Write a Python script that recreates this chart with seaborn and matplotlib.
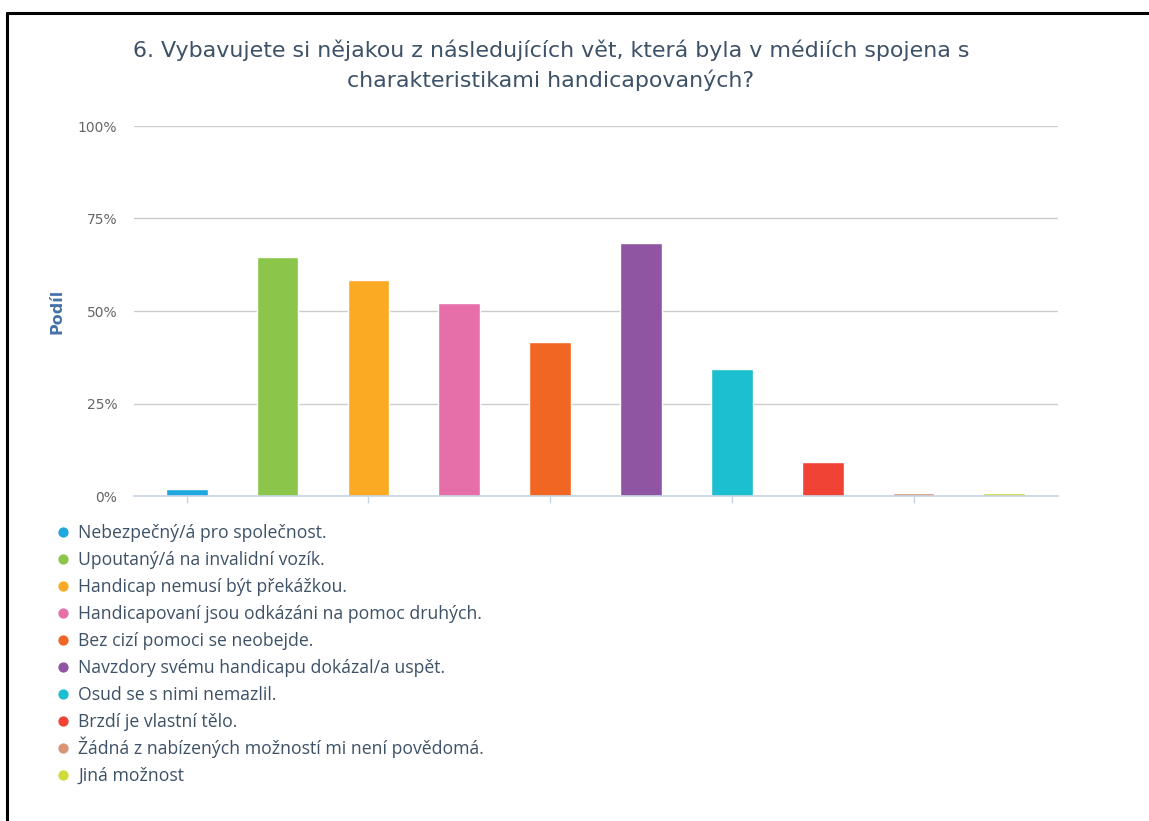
import matplotlib
matplotlib.use("Agg")
import matplotlib.pyplot as plt
from matplotlib.lines import Line2D
import seaborn as sns
import pandas as pd

# ---- data ----
title_line1 = "6. Vybavujete si nějakou z následujících vět, která byla v médiích spojena s"
title_line2 = "charakteristikami handicapovaných?"
categories = [
    "Nebezpečný/á pro společnost.",
    "Upoutaný/á na invalidní vozík.",
    "Handicap nemusí být překážkou.",
    "Handicapovaní jsou odkázáni na pomoc druhých.",
    "Bez cizí pomoci se neobejde.",
    "Navzdory svému handicapu dokázal/a uspět.",
    "Osud se s nimi nemazlil.",
    "Brzdí je vlastní tělo.",
    "Žádná z nabízených možností mi není povědomá.",
    "Jiná možnost",
]
shares = [1.9, 64.6, 58.4, 52.2, 41.6, 68.3, 34.2, 9.3, 0.7, 0.7]
colors = ["#1fa8e0", "#8bc64a", "#fbaa24", "#e76fa9", "#f26624",
          "#9055a2", "#1bbfd0", "#f04336", "#d9957a", "#cddc39"]
y_ticks = [0, 25, 50, 75, 100]
y_tick_labels = ["0%", "25%", "50%", "75%", "100%"]
y_label = "Podíl"

W, H = 1149, 821
sns.set_theme(style="white")
plt.rcParams["font.family"] = ["DejaVu Sans"]

fig = plt.figure(figsize=(W / 100, H / 100), dpi=100)
fig.patch.set_facecolor("white")

# axes
x0, x1 = 134, 1058
y_bot, y_top = 496, 126
ax = fig.add_axes([x0 / W, 1 - y_bot / H, (x1 - x0) / W, (y_bot - y_top) / H])
ax.set_facecolor("none")

df = pd.DataFrame({"cat": categories, "share": shares})
sns.barplot(data=df, x="cat", y="share", hue="cat", palette=colors, legend=False,
            width=0.46, saturation=1, edgecolor="white", linewidth=1, ax=ax, zorder=3)

ax.set_ylim(0, 100)
ax.set_xlim(-0.58, 9.59)
ax.set_yticks(y_ticks, y_tick_labels)
ax.set_xticks(range(0, 10, 2), [""] * 5)
ax.tick_params(axis="y", length=0, pad=12, labelsize=10, labelcolor="#666666")
ax.tick_params(axis="x", length=5, width=1, color="#c6d4e3", direction="out", bottom=True)
ax.yaxis.grid(True, color="#cccccc", linewidth=1)
ax.set_axisbelow(True)
for s in ["top", "right", "left"]:
    ax.spines[s].set_visible(False)
ax.spines["bottom"].set_color("#c6d4e3")
ax.spines["bottom"].set_linewidth(1.2)
ax.spines["bottom"].set_zorder(4)
ax.set_xlabel("")
ax.set_ylabel("")

fig.text(57 / W, 1 - 311 / H, y_label, rotation=90, ha="center", va="center",
         fontsize=11.5, fontweight="bold", color="#4572a7")

# title
tc = "#3d5167"
fig.text(551 / W, 1 - 50 / H, title_line1, ha="center", va="center", fontsize=15.9, color=tc)
fig.text(551 / W, 1 - 80 / H, title_line2, ha="center", va="center", fontsize=15.9, color=tc)

# legend (rows with a fixed pitch)
leg_top, leg_pitch = 532, 27
for i, (lab, c) in enumerate(zip(categories, colors)):
    yy = leg_top + leg_pitch * i
    fig.add_artist(Line2D([63 / W], [1 - yy / H], transform=fig.transFigure,
                          marker="o", linestyle="", markersize=7.4, color=c,
                          markeredgewidth=0))
    fig.text(78 / W, 1 - (yy + 6) / H, lab, ha="left", va="baseline",
             family="Open Sans", fontsize=12.7, color=tc)

# border
fig.add_artist(Line2D([7 / W, 1], [1 - 13 / H, 1 - 13 / H], transform=fig.transFigure,
                      color="black", linewidth=2.2))
fig.add_artist(Line2D([7 / W, 7 / W], [0, 1 - 13 / H], transform=fig.transFigure,
                      color="black", linewidth=2.2))

fig.savefig("out.png", dpi=100)
